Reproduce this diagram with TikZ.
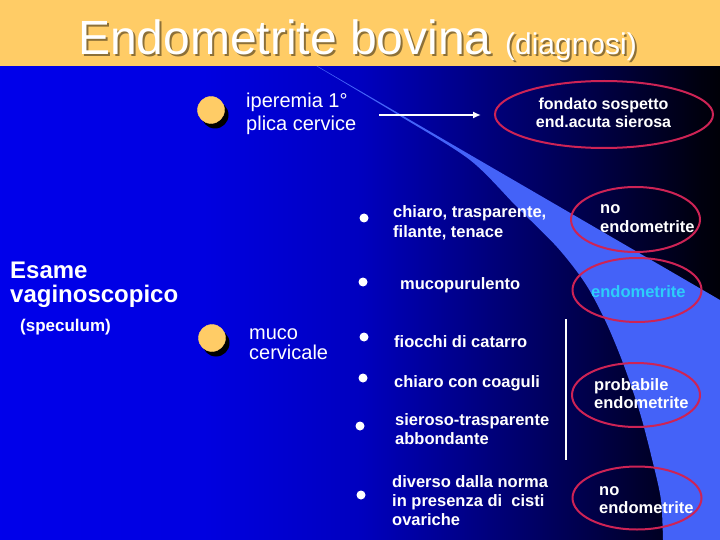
\documentclass[tikz,border=0pt]{standalone}
\usepackage{fontspec}
\setmainfont{Liberation Sans}
\usetikzlibrary{arrows.meta}

\definecolor{slideorange}{RGB}{255,204,102}
\definecolor{ringred}{RGB}{205,35,85}
\definecolor{swooshblue}{RGB}{68,98,248}
\definecolor{endocyan}{RGB}{45,205,250}

% background: bright blue on the left, black on the right
\pgfdeclarehorizontalshading{slidebg}{100bp}{rgb(0bp)=(0,0,0.92); rgb(25bp)=(0,0,0.92);
  rgb(39bp)=(0,0,0.88); rgb(50bp)=(0,0,0.75); rgb(59.5bp)=(0,0,0.47);
  rgb(66.5bp)=(0,0,0.27); rgb(73.5bp)=(0,0,0.06); rgb(75bp)=(0,0,0.03); rgb(100bp)=(0,0,0.03)}

\tikzset{
  txt/.style={text=white, inner sep=0pt, align=left, anchor=base west},
  plain/.style={txt, font=\fontsize{20}{23}\selectfont},
  bold/.style={txt, font=\bfseries\fontsize{16.5}{19}\selectfont},
  ring/.style={draw=ringred, line width=2pt},
  pointer/.style={draw=white, line width=1.8pt, -{Latex[length=8pt,width=7pt]}},
}

\begin{document}
\begin{tikzpicture}[x=1pt, y=-1pt]
  \useasboundingbox (0,0) rectangle (720,540);

  % Draw the slide background and the light swoosh
  \shade[shading=slidebg] (0,0) rectangle (720,540);
  \fill[swooshblue] (312,63) -- (720,300) -- (720,540) -- plot[smooth] coordinates {(663,540) (661,500)
    (653,463) (640,413) (623,363) (605,320) (585,283) (557,247) (517,207) (470,160) (400,116) (318,67)} -- cycle;

  % Draw the title band
  \fill[slideorange] (0,0) rectangle (720,66);
  \node[txt, text=black, text opacity=0.45, font=\fontsize{48}{48}\selectfont] (titleshadow) at (80,57)
    {Endometrite bovina {\fontsize{30}{30}\selectfont(diagnosi)}};
  \node[txt, font=\fontsize{48}{48}\selectfont] (title) at (78,55)
    {Endometrite bovina {\fontsize{30}{30}\selectfont(diagnosi)}};

  % Left column (multi-line nodes sit on the baseline of their last line)
  \node[txt, font=\bfseries\fontsize{24}{24}\selectfont] (esame) at (10,302) {Esame\\vaginoscopico};
  \node[txt, font=\bfseries\fontsize{17}{17}\selectfont] (speculum) at (20,331) {(speculum)};

  % Orange bullets with their shadow
  \fill[black] (215,115) circle (13.5pt);
  \filldraw[slideorange] (211,110) circle (13.5pt);
  \fill[black] (216,343) circle (13.5pt);
  \filldraw[slideorange] (212,338) circle (13.5pt);

  \node[plain] (iper) at (246,131) {iperemia 1°\\plica cervice};
  \node[plain, font=\fontsize{20}{20}\selectfont] (muco) at (249,359) {muco\\cervicale};

  % Arrow to the first diagnosis
  \coordinate (arrowtip) at (481,115);
  \draw[pointer, shorten <=23pt] (iper.east |- arrowtip) -- (arrowtip);
  \node[bold, font=\bfseries\fontsize{16}{18}\selectfont, anchor=base, align=center] (sospetto) at (603.5,128)
    {fondato sospetto\\end.acuta sierosa};

  % White bullets
  \fill[white] (364,218) circle (4.5pt);
  \fill[white] (363,282) circle (4.5pt);
  \fill[white] (364,337) circle (4.5pt);
  \fill[white] (363,378) circle (4.5pt);
  \fill[white] (360,426) circle (4.5pt);
  \fill[white] (361,495) circle (4.5pt);

  \node[bold, font=\bfseries\fontsize{16.5}{20}\selectfont] (chiaro) at (393,237) {chiaro, trasparente,\\filante, tenace};
  \node[bold] (mucopur) at (400,289) {mucopurulento};
  \node[bold] (fiocchi) at (394,347) {fiocchi di catarro};
  \node[bold] (coaguli) at (394,387) {chiaro con coaguli};
  \node[bold] (sieroso) at (395,444) {sieroso-trasparente\\abbondante};
  \node[bold] (diverso) at (392,525) {diverso dalla norma\\in presenza di\ \ cisti\\ovariche};

  \draw[white, line width=2pt] (566,319) -- (566,460);

  % Diagnoses in their rings
  \node[bold] (nofirst) at (600,233) {no\\endometrite};
  \node[bold, text=endocyan] (endo) at (591,297) {endometrite};
  \node[bold, font=\bfseries\fontsize{16.5}{18}\selectfont] (prob) at (594,408) {probabile\\endometrite};
  \node[bold, font=\bfseries\fontsize{16.5}{18}\selectfont] (nosecond) at (599,513) {no\\endometrite};

  \draw[ring] (604,114.5) ellipse (109pt and 33.5pt);
  \draw[ring] (635.5,219.5) ellipse (64.5pt and 32.5pt);
  \draw[ring] (637,290) ellipse (64.5pt and 32pt);
  \draw[ring] (636,395) ellipse (64pt and 32pt);
  \draw[ring] (637,498) ellipse (64.5pt and 31.5pt);
\end{tikzpicture}
\end{document}
